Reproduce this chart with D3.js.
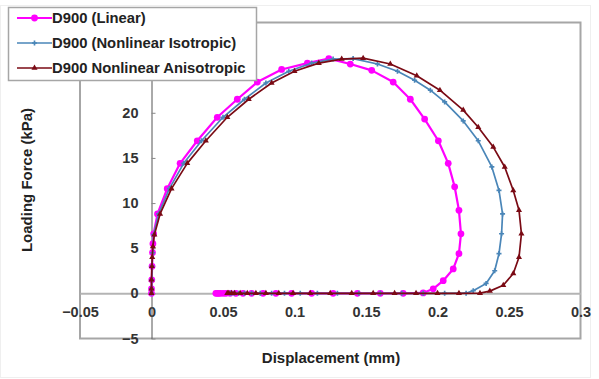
<!DOCTYPE html>
<html>
<head>
<meta charset="utf-8">
<script src="https://cdn.jsdelivr.net/npm/d3@7"></script>
<style>
  html, body { margin: 0; padding: 0; background: #fff; }
  svg { display: block; }
  text { font-family: "Liberation Sans", Arial, sans-serif; font-weight: bold; }
</style>
</head>
<body>
<svg id="chart" width="599" height="379"></svg>
<script>
// Loading / unloading loops: displacement (mm) vs loading force (kPa)
const linearX = [0, 0, 0.0002, 0.0004, 0.0007, 0.001, 0.0015, 0.0042, 0.011, 0.020, 0.032, 0.046, 0.060, 0.074, 0.091, 0.109, 0.124,
  0.139, 0.154, 0.169, 0.181, 0.191, 0.2006, 0.2075, 0.212, 0.215, 0.2164, 0.215, 0.211, 0.204, 0.197,
  0.19, 0.176, 0.160, 0.144, 0.127, 0.112, 0.098, 0.087, 0.078, 0.070, 0.064, 0.059, 0.055, 0.052, 0.050, 0.048, 0.047, 0.046, 0.045];
const linearY = [0, 0.5, 1.5, 3, 4.5, 5.5, 6.6, 8.8, 11.6, 14.4, 16.9, 19.5, 21.5, 23.4, 24.8, 25.5, 26.0,
  25.4, 24.7, 23.4, 21.5, 19.3, 16.9, 14.4, 11.8, 9.2, 6.6, 4.4, 2.7, 1.4, 0.5,
  0.05, 0, 0, 0, 0, 0, 0, 0, 0, 0, 0, 0, 0, 0, 0, 0, 0, 0, 0];

const isoX = [0, 0, 0.0002, 0.0004, 0.0008, 0.0015, 0.005, 0.0125, 0.0225, 0.035, 0.050, 0.065, 0.080, 0.096, 0.112, 0.127, 0.141,
  0.158, 0.172, 0.184, 0.195, 0.205, 0.218, 0.2285, 0.238, 0.243, 0.2455, 0.2448, 0.243, 0.240, 0.234, 0.225,
  0.220, 0.205, 0.190, 0.175, 0.160, 0.145, 0.130, 0.116, 0.104, 0.093, 0.084, 0.076, 0.070, 0.065, 0.061, 0.058, 0.056, 0.055];
const isoY = [0, 0.5, 1.5, 3, 4.5, 6.5, 8.8, 11.6, 14.4, 16.9, 19.5, 21.5, 23.3, 24.6, 25.5, 25.95, 26.0,
  25.4, 24.6, 23.6, 22.5, 21.2, 19.1, 16.9, 14.0, 11.4, 8.8, 6.6, 4.4, 2.5, 1.1, 0.3,
  0.02, 0, 0, 0, 0, 0, 0, 0, 0, 0, 0, 0, 0, 0, 0, 0, 0, 0];

const anisoX = [0, 0, 0, 0.0003, 0.0005, 0.001, 0.002, 0.006, 0.014, 0.025, 0.038, 0.053, 0.068, 0.084, 0.100, 0.117, 0.133, 0.148,
  0.167, 0.1855, 0.2017, 0.218, 0.2285, 0.239, 0.247, 0.253, 0.257, 0.2587, 0.257, 0.253, 0.246, 0.2366,
  0.2297, 0.215, 0.200, 0.185, 0.170, 0.155, 0.140, 0.125, 0.111, 0.099, 0.089, 0.080, 0.073, 0.067, 0.062, 0.058, 0.056, 0.054, 0.053];
const anisoY = [0, 0.5, 1.5, 3, 4, 5.2, 6.5, 8.8, 11.6, 14.4, 16.9, 19.5, 21.5, 23.3, 24.6, 25.5, 25.95, 26.05,
  25.4, 24.1, 22.5, 20.3, 18.4, 16.2, 14.0, 11.4, 9.2, 6.6, 4.0, 2.2, 0.9, 0.25,
  0.02, 0, 0, 0, 0, 0, 0, 0, 0, 0, 0, 0, 0, 0, 0, 0, 0, 0, 0];

const xTicks = [-0.05, 0, 0.05, 0.1, 0.15, 0.2, 0.25, 0.3];
// labels at 25 and 30 sit behind the legend box, so only these are drawn
const yTicks = [-5, 0, 5, 10, 15, 20];
const seriesNames = ["D900 (Linear)", "D900 (Nonlinear Isotropic)", "D900 Nonlinear Anisotropic"];

const series = [
  { name: seriesNames[0], xs: linearX, ys: linearY, color: "#ff00ff", width: 2.2, marker: "circle" },
  { name: seriesNames[1], xs: isoX, ys: isoY, color: "#4a86b8", width: 1.7, marker: "cross" },
  { name: seriesNames[2], xs: anisoX, ys: anisoY, color: "#7a0a14", width: 1.7, marker: "triangle" }
];

const svg = d3.select("#chart");

// faint outer chart border
svg.append("rect").attr("x", 0.5).attr("y", 5.5).attr("width", 590).attr("height", 372)
  .attr("fill", "none").attr("stroke", "#efefef");

const plot = { left: 80, right: 580.5, top: 22.5, bottom: 338.5 };
const x = d3.scaleLinear().domain([-0.05, 0.3]).range([plot.left, plot.right]);
const y = d3.scaleLinear().domain([-5, 30]).range([plot.bottom, plot.top]);

// plot area frame
svg.append("rect")
  .attr("x", plot.left).attr("y", plot.top)
  .attr("width", plot.right - plot.left).attr("height", plot.bottom - plot.top)
  .attr("fill", "#fff").attr("stroke", "#a6a6a6").attr("stroke-width", 2);

// x axis along force = 0, labels below
const xAxis = d3.axisBottom(x).tickValues(xTicks).tickSize(0).tickPadding(13)
  .tickFormat(d => d3.format("")(+d.toFixed(2)));
const gx = svg.append("g").attr("transform", `translate(0,${y(0)})`).call(xAxis);
gx.select(".domain").attr("stroke", "#b4b4b4").attr("stroke-width", 2);
gx.selectAll(".tick text").attr("font-size", 14.5).attr("fill", "#333")
  .attr("font-family", "Liberation Sans, Arial, sans-serif").attr("font-weight", "bold");

// y axis along displacement = 0, labels left
const yAxis = d3.axisLeft(y).tickValues(yTicks).tickSize(0).tickPadding(13);
const gy = svg.append("g").attr("transform", `translate(${x(0)},0)`).call(yAxis);
gy.select(".domain").attr("stroke", "#555").attr("stroke-width", 1);
gy.selectAll(".tick text").attr("font-size", 14.5).attr("fill", "#333")
  .attr("font-family", "Liberation Sans, Arial, sans-serif").attr("font-weight", "bold");
// small inside tick marks
gy.selectAll(".tick").append("line").attr("x1", 0).attr("x2", 4).attr("stroke", "#888");

// series lines and markers
const line = d3.line().x(d => x(d[0])).y(d => y(d[1]));
function markerPath(kind) {
  if (kind === "circle") return d3.symbol(d3.symbolCircle, 36)();
  if (kind === "cross") return d3.symbol(d3.symbolCross, 14)();
  return d3.symbol(d3.symbolTriangle, 16)();
}
series.forEach(s => {
  const pts = s.xs.map((v, i) => [v, s.ys[i]]);
  const g = svg.append("g");
  g.append("path").datum(pts).attr("d", line)
    .attr("fill", "none").attr("stroke", s.color).attr("stroke-width", s.width)
    .attr("stroke-linejoin", "round");
  g.selectAll("path.m").data(pts).join("path").attr("class", "m")
    .attr("d", markerPath(s.marker))
    .attr("transform", d => `translate(${x(d[0])},${y(d[1])})`)
    .attr("fill", s.color);
});

// axis titles
svg.append("text").attr("x", 331).attr("y", 363).attr("text-anchor", "middle")
  .attr("font-size", 15).attr("fill", "#222").text("Displacement (mm)");
svg.append("text").attr("transform", "translate(32,180) rotate(-90)").attr("text-anchor", "middle")
  .attr("font-size", 15).attr("fill", "#222").text("Loading Force (kPa)");

// legend
const lg = svg.append("g");
lg.append("rect").attr("x", 8.5).attr("y", 7.5).attr("width", 248).attr("height", 73)
  .attr("fill", "#fff").attr("stroke", "#a6a6a6").attr("stroke-width", 1.5);
series.forEach((s, i) => {
  const cy = 18 + i * 25;
  lg.append("line").attr("x1", 17).attr("x2", 52).attr("y1", cy).attr("y2", cy)
    .attr("stroke", s.color).attr("stroke-width", s.width);
  lg.append("path").attr("d", markerPath(s.marker)).attr("transform", `translate(34.5,${cy})`).attr("fill", s.color);
  lg.append("text").attr("x", 52).attr("y", cy + 5).attr("font-size", 14.8).attr("fill", "#222").text(s.name);
});
</script>
</body>
</html>
